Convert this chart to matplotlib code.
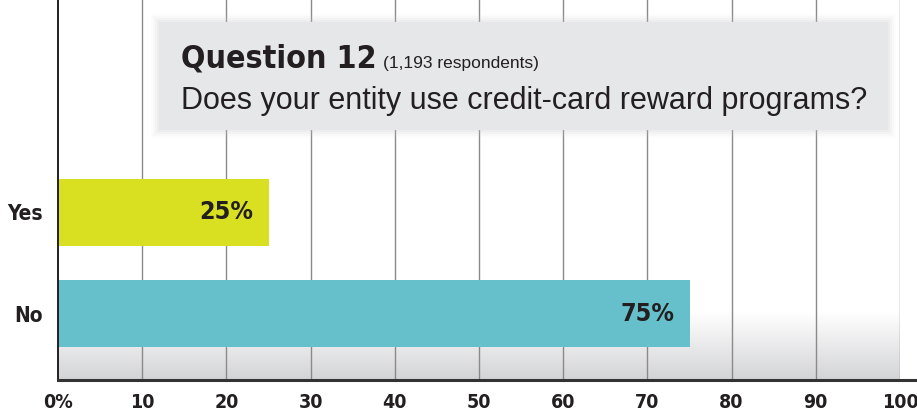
import numpy as np
import matplotlib.pyplot as plt
from matplotlib.patches import FancyBboxPatch
from matplotlib.colors import LinearSegmentedColormap

# =========================
# Data
# =========================
categories = ["No", "Yes"]
values = [75, 25]
bar_colors = ["#66c0cc", "#d8e021"]
tick_values = [0, 10, 20, 30, 40, 50, 60, 70, 80, 90, 100]
tick_labels = ["0%", "10", "20", "30", "40", "50", "60", "70", "80", "90", "100"]

title_bold = "Question 12"
title_note = "(1,193 respondents)"
question = "Does your entity use credit-card reward programs?"

narrow = ["Liberation Sans Narrow", "DejaVu Sans"]
plain = ["Liberation Sans", "DejaVu Sans"]
cond = dict(family=narrow, fontstretch="condensed", fontweight="bold")

W, H = 917, 416
fig = plt.figure(figsize=(W / 100, H / 100), dpi=100)
fig.patch.set_facecolor("white")

# axes: x 58..900 px, y 0..380 px
ax = fig.add_axes([58 / W, (H - 380) / H, (900 - 58) / W, 380 / H])
ax.set_xlim(0, 100)
ax.set_ylim(-0.65, 3.09)
ax.set_facecolor("white")

# gradient band at bottom
grad = LinearSegmentedColormap.from_list("g", ["#d3d4d6", "#ffffff"])
ax.imshow(np.linspace(0, 1, 100).reshape(-1, 1), extent=[0, 100, -0.65, 0.02],
          aspect="auto", cmap=grad, origin="lower", zorder=0)

# vertical grid lines
for t in tick_values[1:]:
    ax.axvline(t, color="#8a8a8a", lw=1.0, zorder=1)

y = np.arange(len(categories))
ax.barh(y, values, height=0.66, color=bar_colors, zorder=2)

for yi, v in zip(y, values):
    ax.text(v - 1.8, yi, f"{v}%", ha="right", va="center", fontsize=18,
            color="#231f20", zorder=3, **cond)

ax.set_yticks(y)
ax.set_yticklabels(categories, fontsize=15, color="#231f20", **cond)
ax.set_xticks(tick_values)
ax.set_xticklabels(tick_labels, fontsize=14, color="#231f20", **cond)
ax.tick_params(length=0, pad=9)
ax.tick_params(axis="y", pad=11)
for s in ["top", "right"]:
    ax.spines[s].set_visible(False)
ax.spines["left"].set_color("#231f20")
ax.spines["left"].set_linewidth(1.4)
ax.spines["bottom"].set_visible(False)

# bottom axis line extends past 100
fig.add_artist(plt.Line2D([58 / W, 915 / W], [(H - 380) / H] * 2, color="#333333",
                          lw=2.2, transform=fig.transFigure))

# title box with soft shadow
bx0, bx1, by0, by1 = 159 / W, 888 / W, (H - 130) / H, (H - 22) / H
for i, a in enumerate([0.05, 0.07, 0.1, 0.14]):
    pad = (4 - i) * 2.0
    fig.add_artist(FancyBboxPatch((bx0 - pad / W, by0 - pad / H),
                                  bx1 - bx0 + 2 * pad / W, by1 - by0 + 2 * pad / H,
                                  boxstyle="square,pad=0", transform=fig.transFigure,
                                  facecolor="#c9cacc", edgecolor="none", alpha=a))
fig.add_artist(FancyBboxPatch((bx0, by0), bx1 - bx0, by1 - by0,
                              boxstyle="square,pad=0", transform=fig.transFigure,
                              facecolor="#e6e7e9", edgecolor="none"))

t1 = fig.text(181 / W, (H - 68) / H, title_bold, fontsize=23,
              color="#231f20", va="baseline", **cond)
fig.canvas.draw()
bb = t1.get_window_extent()
fig.text(bb.x1 / W + 6 / W, (H - 68) / H, title_note, fontsize=12.5,
         family=plain, color="#231f20", va="baseline")
fig.text(181 / W, (H - 109) / H, question, fontsize=22, family=plain,
         color="#231f20", va="baseline")

fig.savefig("out.png", dpi=100)
